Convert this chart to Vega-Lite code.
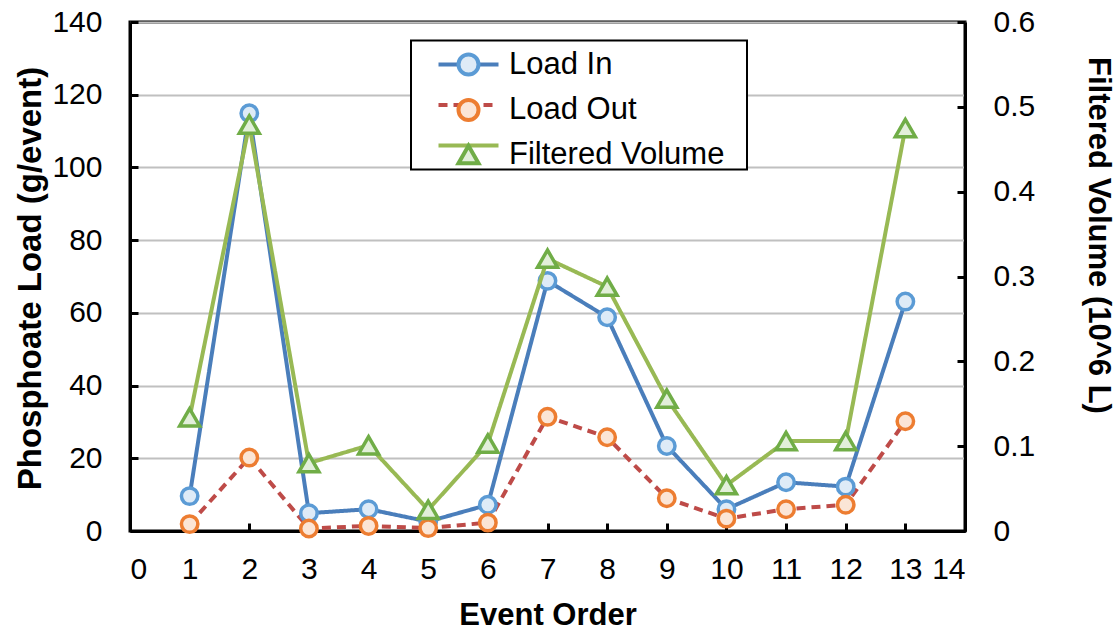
{
  "$schema": "https://vega.github.io/schema/vega-lite/v6.json",
  "width": 835,
  "height": 509,
  "autosize": {"type": "none"},
  "padding": {"left": 130, "top": 22, "right": 153, "bottom": 99},
  "background": "white",
  "config": {
    "font": "Liberation Sans",
    "view": {"stroke": "black", "strokeWidth": 3},
    "axis": {
      "domainColor": "black",
      "domainWidth": 3,
      "tickColor": "black",
      "tickWidth": 3,
      "tickSize": -8,
      "labelFont": "Liberation Sans",
      "labelFontSize": 30,
      "labelColor": "black",
      "titleFont": "Liberation Sans",
      "titleFontSize": 31,
      "titleFontWeight": "bold",
      "titleColor": "black",
      "grid": false
    }
  },
  "data": {
    "values": [
      {"event": 1, "series": "Load In", "value": 9.6},
      {"event": 2, "series": "Load In", "value": 114.9},
      {"event": 3, "series": "Load In", "value": 4.9},
      {"event": 4, "series": "Load In", "value": 6.0},
      {"event": 5, "series": "Load In", "value": 2.6},
      {"event": 6, "series": "Load In", "value": 7.2},
      {"event": 7, "series": "Load In", "value": 68.8},
      {"event": 8, "series": "Load In", "value": 58.8},
      {"event": 9, "series": "Load In", "value": 23.4},
      {"event": 10, "series": "Load In", "value": 6.0},
      {"event": 11, "series": "Load In", "value": 13.4},
      {"event": 12, "series": "Load In", "value": 12.2},
      {"event": 13, "series": "Load In", "value": 63.1},
      {"event": 1, "series": "Load Out", "value": 1.9},
      {"event": 2, "series": "Load Out", "value": 20.2},
      {"event": 3, "series": "Load Out", "value": 0.7},
      {"event": 4, "series": "Load Out", "value": 1.4},
      {"event": 5, "series": "Load Out", "value": 0.8},
      {"event": 6, "series": "Load Out", "value": 2.3},
      {"event": 7, "series": "Load Out", "value": 31.4},
      {"event": 8, "series": "Load Out", "value": 25.8},
      {"event": 9, "series": "Load Out", "value": 9.0},
      {"event": 10, "series": "Load Out", "value": 3.4},
      {"event": 11, "series": "Load Out", "value": 6.0},
      {"event": 12, "series": "Load Out", "value": 7.2},
      {"event": 13, "series": "Load Out", "value": 30.2},
      {"event": 1, "series": "Filtered Volume", "value": 0.134},
      {"event": 2, "series": "Filtered Volume", "value": 0.479},
      {"event": 3, "series": "Filtered Volume", "value": 0.080},
      {"event": 4, "series": "Filtered Volume", "value": 0.101},
      {"event": 5, "series": "Filtered Volume", "value": 0.025},
      {"event": 6, "series": "Filtered Volume", "value": 0.103},
      {"event": 7, "series": "Filtered Volume", "value": 0.321},
      {"event": 8, "series": "Filtered Volume", "value": 0.288},
      {"event": 9, "series": "Filtered Volume", "value": 0.156},
      {"event": 10, "series": "Filtered Volume", "value": 0.054},
      {"event": 11, "series": "Filtered Volume", "value": 0.106},
      {"event": 12, "series": "Filtered Volume", "value": 0.106},
      {"event": 13, "series": "Filtered Volume", "value": 0.475}
    ]
  },
  "encoding": {
    "x": {
      "field": "event",
      "type": "quantitative",
      "scale": {"domain": [0, 14], "nice": false},
      "axis": {
        "title": "Event Order",
        "values": [0, 1, 2, 3, 4, 5, 6, 7, 8, 9, 10, 11, 12, 13, 14],
        "labelPadding": 31,
        "titleBaseline": "alphabetic",
        "titleY": 93
      }
    }
  },
  "layer": [
    {
      "transform": [{"filter": "datum.series !== 'Filtered Volume'"}],
      "encoding": {
        "y": {
          "field": "value",
          "type": "quantitative",
          "scale": {"domain": [0, 140], "nice": false},
          "axis": {
            "title": "Phosphoate Load (g/event)",
            "titleFontSize": 33,
            "values": [0, 20, 40, 60, 80, 100, 120, 140],
            "grid": true,
            "gridColor": "#C0C0C0",
            "gridWidth": 2,
            "labelPadding": 36,
            "titleAngle": -90,
            "titleBaseline": "middle",
            "titleX": -100,
            "titleY": 256
          }
        }
      },
      "layer": [
        {
          "mark": {"type": "line", "strokeWidth": 4},
          "encoding": {
            "color": {
              "field": "series",
              "type": "nominal",
              "scale": {
                "domain": ["Filtered Volume", "Load In", "Load Out"],
                "range": ["#98B954", "#4A7EBB", "#BE4B48"]
              },
              "legend": {
                "orient": "none",
                "legendX": 281,
                "legendY": 18.5,
                "title": null,
                "values": ["Load In", "Load Out", "Filtered Volume"],
                "zindex": 1,
                "labelFont": "Liberation Sans",
                "labelFontSize": 31,
                "labelExpr": "' '",
                "labelLimit": 400,
                "labelOffset": 254,
                "symbolType": "M-3,0H3",
                "symbolSize": 400,
                "symbolStrokeWidth": 4,
                "symbolOffset": 33.5,
                "padding": 8.5,
                "rowPadding": 8.5,
                "strokeColor": "black",
                "fillColor": "white",
                "encode": {"legend": {"update": {"strokeWidth": {"value": 2}}}}
              }
            },
            "strokeDash": {
              "field": "series",
              "type": "nominal",
              "scale": {
                "domain": ["Filtered Volume", "Load In", "Load Out"],
                "range": [[1, 0], [1, 0], [9, 6]]
              }
            }
          }
        },
        {
          "mark": {"type": "point", "size": 270, "strokeWidth": 3.5, "opacity": 1, "filled": false},
          "encoding": {
            "stroke": {
              "field": "series",
              "type": "nominal",
              "scale": {
                "domain": ["Load In", "Load Out", "Filtered Volume"],
                "range": ["#5B9BD5", "#ED7D31", "#70AD47"]
              },
              "legend": {
                "orient": "none",
                "legendX": 281,
                "legendY": 18.5,
                "title": null,
                "zindex": 2,
                "labelFont": "Liberation Sans",
                "labelFontSize": 31,
                "labelColor": "black",
                "labelLimit": 400,
                "labelOffset": 25,
                "symbolSize": 400,
                "symbolStrokeWidth": 4,
                "symbolOffset": 33.5,
                "padding": 8.5,
                "rowPadding": 8.5,
                "encode": {
                  "symbols": {
                    "update": {
                      "size": {"signal": "datum.value === 'Filtered Volume' ? 400 : 270"},
                      "strokeWidth": {"value": 3.5}
                    }
                  }
                }
              }
            },
            "fill": {
              "field": "series",
              "type": "nominal",
              "scale": {
                "domain": ["Load In", "Load Out", "Filtered Volume"],
                "range": ["#DEEBF7", "#FBE5D6", "#E2EFDA"]
              }
            },
            "shape": {
              "field": "series",
              "type": "nominal",
              "scale": {
                "domain": ["Load In", "Load Out", "Filtered Volume"],
                "range": ["circle", "circle", "triangle-up"]
              }
            }
          }
        }
      ]
    },
    {
      "transform": [{"filter": "datum.series === 'Filtered Volume'"}],
      "encoding": {
        "y": {
          "field": "value",
          "type": "quantitative",
          "scale": {"domain": [0, 0.6], "nice": false},
          "axis": {
            "orient": "right",
            "title": "Filtered Volume (10^6 L)",
            "values": [0, 0.1, 0.2, 0.3, 0.4, 0.5, 0.6],
            "labelExpr": "datum.value === 0 ? '0' : format(datum.value, '.1f')",
            "labelPadding": 36,
            "titleAngle": 90,
            "titleBaseline": "middle",
            "titleX": 132,
            "titleY": 213
          }
        }
      },
      "layer": [
        {
          "mark": {"type": "line", "strokeWidth": 4},
          "encoding": {
            "color": {"field": "series", "type": "nominal"},
            "strokeDash": {"field": "series", "type": "nominal"}
          }
        },
        {
          "mark": {"type": "point", "size": 400, "strokeWidth": 3.5, "opacity": 1, "filled": false},
          "encoding": {
            "stroke": {"field": "series", "type": "nominal"},
            "fill": {"field": "series", "type": "nominal"},
            "shape": {"field": "series", "type": "nominal"}
          }
        }
      ]
    }
  ],
  "resolve": {"scale": {"y": "independent"}}
}
